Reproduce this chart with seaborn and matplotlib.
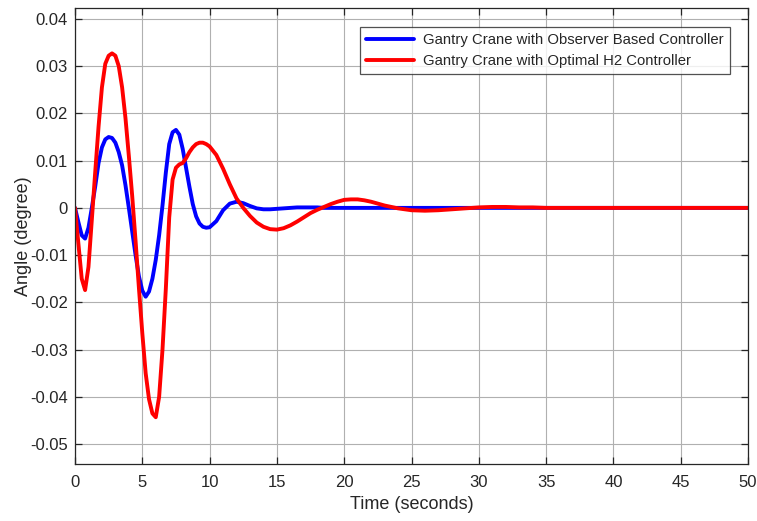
import matplotlib
matplotlib.use("Agg")
import matplotlib.pyplot as plt
import seaborn as sns
import pandas as pd

# ---- data ----
time_s = [0.0, 0.25, 0.5, 0.75, 1.0, 1.25, 1.5, 1.75, 2.0, 2.25, 2.5, 2.75, 3.0, 3.25, 3.5, 3.75,
          4.0, 4.25, 4.5, 4.75, 5.0, 5.25, 5.5, 5.75, 6.0, 6.25, 6.5, 6.75, 7.0, 7.25, 7.5, 7.75,
          8.0, 8.25, 8.5, 8.75, 9.0, 9.25, 9.5, 9.75, 10.0,
          10.5, 11.0, 11.5, 12.0, 12.5, 13.0, 13.5, 14.0, 14.5, 15.0, 15.5, 16.0, 16.5, 17.0, 17.5,
          18.0, 18.5, 19.0, 19.5, 20.0, 20.5, 21.0, 21.5, 22.0, 22.5, 23.0, 23.5, 24.0, 24.5, 25.0,
          26, 27, 28, 29, 30, 31, 32, 33, 34, 35, 40, 45, 50]

angle_observer = [0.0, -0.0030, -0.0058, -0.0065, -0.0042, 0.0000, 0.0045, 0.0095, 0.0128, 0.0145,
                  0.0150, 0.0148, 0.0138, 0.0118, 0.0090, 0.0048, 0.0000, -0.0050, -0.0100, -0.0145,
                  -0.0175, -0.0188, -0.0177, -0.0150, -0.0110, -0.0058, 0.0005, 0.0075, 0.0135, 0.0160,
                  0.0165, 0.0155, 0.0125, 0.0085, 0.0045, 0.0008, -0.0018, -0.0033, -0.0040, -0.0042,
                  -0.0041,
                  -0.0028, -0.0005, 0.0009, 0.0013, 0.0010, 0.0004, -0.0001, -0.0003, -0.0003, -0.0002,
                  -0.0001, 0.0, 0.0001, 0.0001, 0.0001, 0.0001, 0.0, 0.0, 0.0, 0.0, 0.0, 0.0, 0.0, 0.0,
                  0.0, 0.0, 0.0, 0.0, 0.0, 0.0,
                  0.0, 0.0, 0.0, 0.0, 0.0, 0.0, 0.0, 0.0, 0.0, 0.0, 0.0, 0.0, 0.0]

angle_h2 = [0.0, -0.0075, -0.0150, -0.0174, -0.0125, -0.0025, 0.0075, 0.0172, 0.0255, 0.0305,
            0.0322, 0.0327, 0.0322, 0.0300, 0.0255, 0.0190, 0.0110, 0.0025, -0.0070, -0.0170,
            -0.0265, -0.0350, -0.0405, -0.0435, -0.0443, -0.0400, -0.0300, -0.0170, -0.0020, 0.0060,
            0.0085, 0.0092, 0.0095, 0.0105, 0.0118, 0.0128, 0.0135, 0.0138, 0.0138, 0.0135,
            0.0130,
            0.0112, 0.0083, 0.0050, 0.0020, 0.0000, -0.0017, -0.0031, -0.0040, -0.0045, -0.0046,
            -0.0043, -0.0037, -0.0029, -0.0020, -0.0011, -0.0004, 0.0002, 0.0008, 0.0013, 0.0017,
            0.0018, 0.0018, 0.0016, 0.0013, 0.0009, 0.0005, 0.0002, -0.0001, -0.0003, -0.0005,
            -0.0006, -0.0005, -0.0003, -0.0001, 0.0001, 0.0002, 0.0002, 0.0001, 0.0001, 0.0,
            0.0, 0.0, 0.0]

series_names = ["Gantry Crane with Observer Based Controller",
                "Gantry Crane with Optimal H2 Controller"]
series_colors = ["#0000FF", "#FF0000"]

x_ticks = [0, 5, 10, 15, 20, 25, 30, 35, 40, 45, 50]
y_ticks = [-0.05, -0.04, -0.03, -0.02, -0.01, 0, 0.01, 0.02, 0.03, 0.04]
y_tick_labels = ["-0.05", "-0.04", "-0.03", "-0.02", "-0.01", "0", "0.01", "0.02", "0.03", "0.04"]

df = pd.concat([
    pd.DataFrame({"Time": time_s, "Angle": angle_observer, "Controller": series_names[0]}),
    pd.DataFrame({"Time": time_s, "Angle": angle_h2, "Controller": series_names[1]}),
], ignore_index=True)

sns.set_style("white")
plt.rcParams["font.family"] = ["Liberation Sans", "DejaVu Sans"]
plt.rcParams["axes.unicode_minus"] = False

fig = plt.figure(figsize=(7.57, 5.21), dpi=100)
ax = fig.add_axes([75 / 757, 1 - 464 / 521, 673 / 757, 456 / 521])

sns.lineplot(data=df, x="Time", y="Angle", hue="Controller",
             palette=dict(zip(series_names, series_colors)), linewidth=2.8,
             sort=False, estimator=None, ax=ax)

ax.set_xlim(0, 50)
ax.set_ylim(-0.0542, 0.0423)
ax.set_xticks(x_ticks)
ax.set_xticklabels([str(v) for v in x_ticks])
ax.set_yticks(y_ticks)
ax.set_yticklabels(y_tick_labels)
ax.grid(True, color="#b0b0b0", linewidth=0.8)
ax.set_axisbelow(True)
for s in ax.spines.values():
    s.set_color("#262626")
    s.set_linewidth(0.9)
ax.tick_params(direction="in", length=5, width=0.9, color="#262626",
               labelsize=12, labelcolor="#262626", top=True, right=True,
               left=True, bottom=True)
ax.tick_params(axis="y", pad=5)
ax.tick_params(axis="x", pad=8)

ax.set_xlabel("Time (seconds)", fontsize=13, color="#262626", labelpad=4)
ax.set_ylabel("Angle (degree)", fontsize=13, color="#262626", labelpad=-1)

leg = ax.legend(loc="upper right", bbox_to_anchor=((730 - 75) / 673, 1 - (27 - 8) / 456),
                borderaxespad=0, fontsize=10.7, frameon=True, fancybox=False,
                handlelength=3.2, handletextpad=0.65, labelspacing=0.5, borderpad=0.4)
leg.get_frame().set_edgecolor("#262626")
leg.get_frame().set_linewidth(0.9)
for line in leg.get_lines():
    line.set_linewidth(2.8)

fig.savefig("out.png", dpi=100)
